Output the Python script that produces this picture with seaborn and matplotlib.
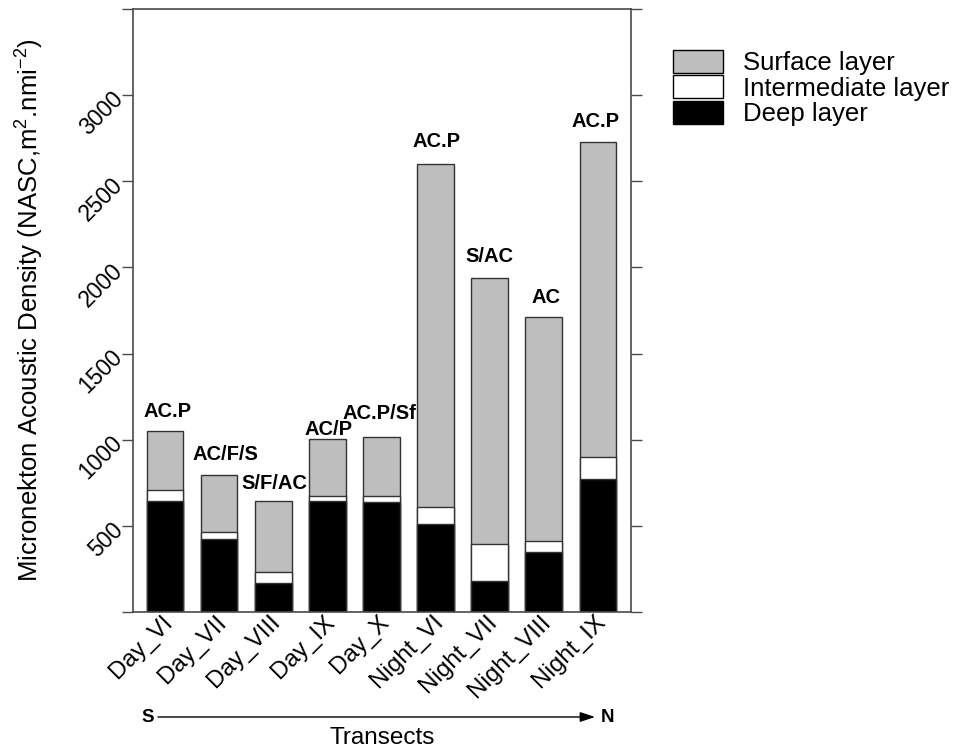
import matplotlib
matplotlib.use("Agg")
import matplotlib.pyplot as plt
import seaborn as sns
import numpy as np
import pandas as pd
from matplotlib.patches import Patch
from matplotlib.transforms import ScaledTranslation

# ---- data ----
transects = ["Day_VI", "Day_VII", "Day_VIII", "Day_IX", "Day_X",
             "Night_VI", "Night_VII", "Night_VIII", "Night_IX"]
deep_layer = [647, 425, 168, 647, 637, 508, 178, 348, 771]
intermediate_layer = [64, 37, 66, 29, 39, 102, 214, 65, 129]
surface_layer = [338, 336, 413, 330, 340, 1993, 1547, 1302, 1829]
group_labels = ["AC.P", "AC/F/S", "S/F/AC", "AC/P", "AC.P/Sf",
                "AC.P", "S/AC", "AC", "AC.P"]
y_ticks = [0, 500, 1000, 1500, 2000, 2500, 3000, 3500]
y_ticklabels = ["", "500", "1000", "1500", "2000", "2500", "3000", ""]

df = pd.DataFrame({"Transect": transects, "Deep": deep_layer,
                   "Intermediate": intermediate_layer, "Surface": surface_layer})
df["DeepTop"] = df["Deep"]
df["InterTop"] = df["Deep"] + df["Intermediate"]
df["Total"] = df["InterTop"] + df["Surface"]

# ---- style ----
sns.set_style("ticks")
plt.rcParams["font.family"] = ["Liberation Sans", "DejaVu Sans"]
plt.rcParams["mathtext.fontset"] = "custom"
plt.rcParams["mathtext.rm"] = "Liberation Sans"
plt.rcParams["mathtext.it"] = "Liberation Sans"
plt.rcParams["mathtext.bf"] = "Liberation Sans:bold"
plt.rcParams["text.color"] = "black"
plt.rcParams["axes.labelcolor"] = "black"
plt.rcParams["xtick.color"] = "black"
plt.rcParams["ytick.color"] = "black"

GREY = "#BEBEBE"
EDGE = "#333333"
SPINE = "#4a4a4a"

fig = plt.figure(figsize=(9.59, 7.55), dpi=100)
ax = fig.add_axes([133/959, 1-612/755, 498/959, 603/755])

common = dict(ax=ax, width=0.68, saturation=1, edgecolor=EDGE, linewidth=1.0)
sns.barplot(data=df, x="Transect", y="Total", color=GREY, **common)
sns.barplot(data=df, x="Transect", y="InterTop", color="white", **common)
sns.barplot(data=df, x="Transect", y="DeepTop", color="black", **common)

ax.set_xlim(-0.59, 8.61)
ax.set_ylim(0, 3500)

ax.yaxis.set_ticks_position("both")
ax.set_yticks(y_ticks)
ax.set_yticklabels(y_ticklabels)
ax.tick_params(axis="y", which="both", direction="out", length=8, width=1,
               color=SPINE, labelcolor="black", labelsize=16.5, pad=2,
               left=True, right=True)
for lab in ax.get_yticklabels():
    lab.set_rotation(45)
    lab.set_ha("right")
    lab.set_va("center")
    lab.set_rotation_mode("anchor")

ax.tick_params(axis="x", length=0, labelsize=17.5, labelcolor="black", pad=5)
offset = ScaledTranslation(4/100, 0, fig.dpi_scale_trans)
for lab in ax.get_xticklabels():
    lab.set_rotation(45)
    lab.set_ha("right")
    lab.set_va("center")
    lab.set_rotation_mode("anchor")
    lab.set_transform(lab.get_transform() + offset)

for s in ax.spines.values():
    s.set_color(SPINE)
    s.set_linewidth(1.2)

ax.set_xlabel("Transects", fontsize=17.5)
ax.xaxis.set_label_coords(0.5, -(738-612)/603)
ax.xaxis.label.set_va("center")
ax.set_ylabel(r"Micronekton Acoustic Density (NASC,m$^{2}$.nmi$^{-2}$)", fontsize=18.5)
ax.yaxis.set_label_coords((30-133)/498, 0.5)
ax.yaxis.label.set_va("center")

# bar annotations
dx_px = [3, 6, 1, 1, -2, 1, 0, 2, -2]
dy_px = [14.5, 14.5, 11.5, 3.5, 17.5, 16.5, 15.5, 13.5, 14.5]
for i, (lbl, tot) in enumerate(zip(group_labels, df["Total"])):
    ax.annotate(lbl, xy=(i, tot), xytext=(dx_px[i]*0.72, dy_px[i]*0.72),
                textcoords="offset points", ha="center", va="baseline",
                fontsize=14.5, fontweight="bold", color="black")

# legend
handles = [Patch(facecolor=GREY, edgecolor="black", linewidth=1.0, label="Surface layer"),
           Patch(facecolor="white", edgecolor="black", linewidth=1.0, label="Intermediate layer"),
           Patch(facecolor="black", edgecolor="black", linewidth=1.0, label="Deep layer")]
fs_leg = 18.5
px_per_em = fs_leg * 100 / 72
fig.legend(handles=handles, loc="upper left", bbox_to_anchor=(673/959, 1-50/755),
           frameon=False, fontsize=fs_leg, borderpad=0, borderaxespad=0,
           labelspacing=0, handlelength=50/px_per_em, handleheight=25.7/px_per_em,
           handletextpad=20/px_per_em)

# S -> N arrow
ya = 1 - 717/755
ax.annotate("", xy=(595/959, ya), xytext=(158/959, ya), xycoords="figure fraction",
            textcoords="figure fraction",
            arrowprops=dict(arrowstyle="-|>,head_length=0.9,head_width=0.3",
                            color="black", lw=1.0, shrinkA=0, shrinkB=0))
fig.text(148/959, ya, "S", ha="center", va="center", fontsize=13.5, fontweight="bold")
fig.text(608/959, ya, "N", ha="center", va="center", fontsize=13.5, fontweight="bold")

fig.savefig("out.png", dpi=100)
